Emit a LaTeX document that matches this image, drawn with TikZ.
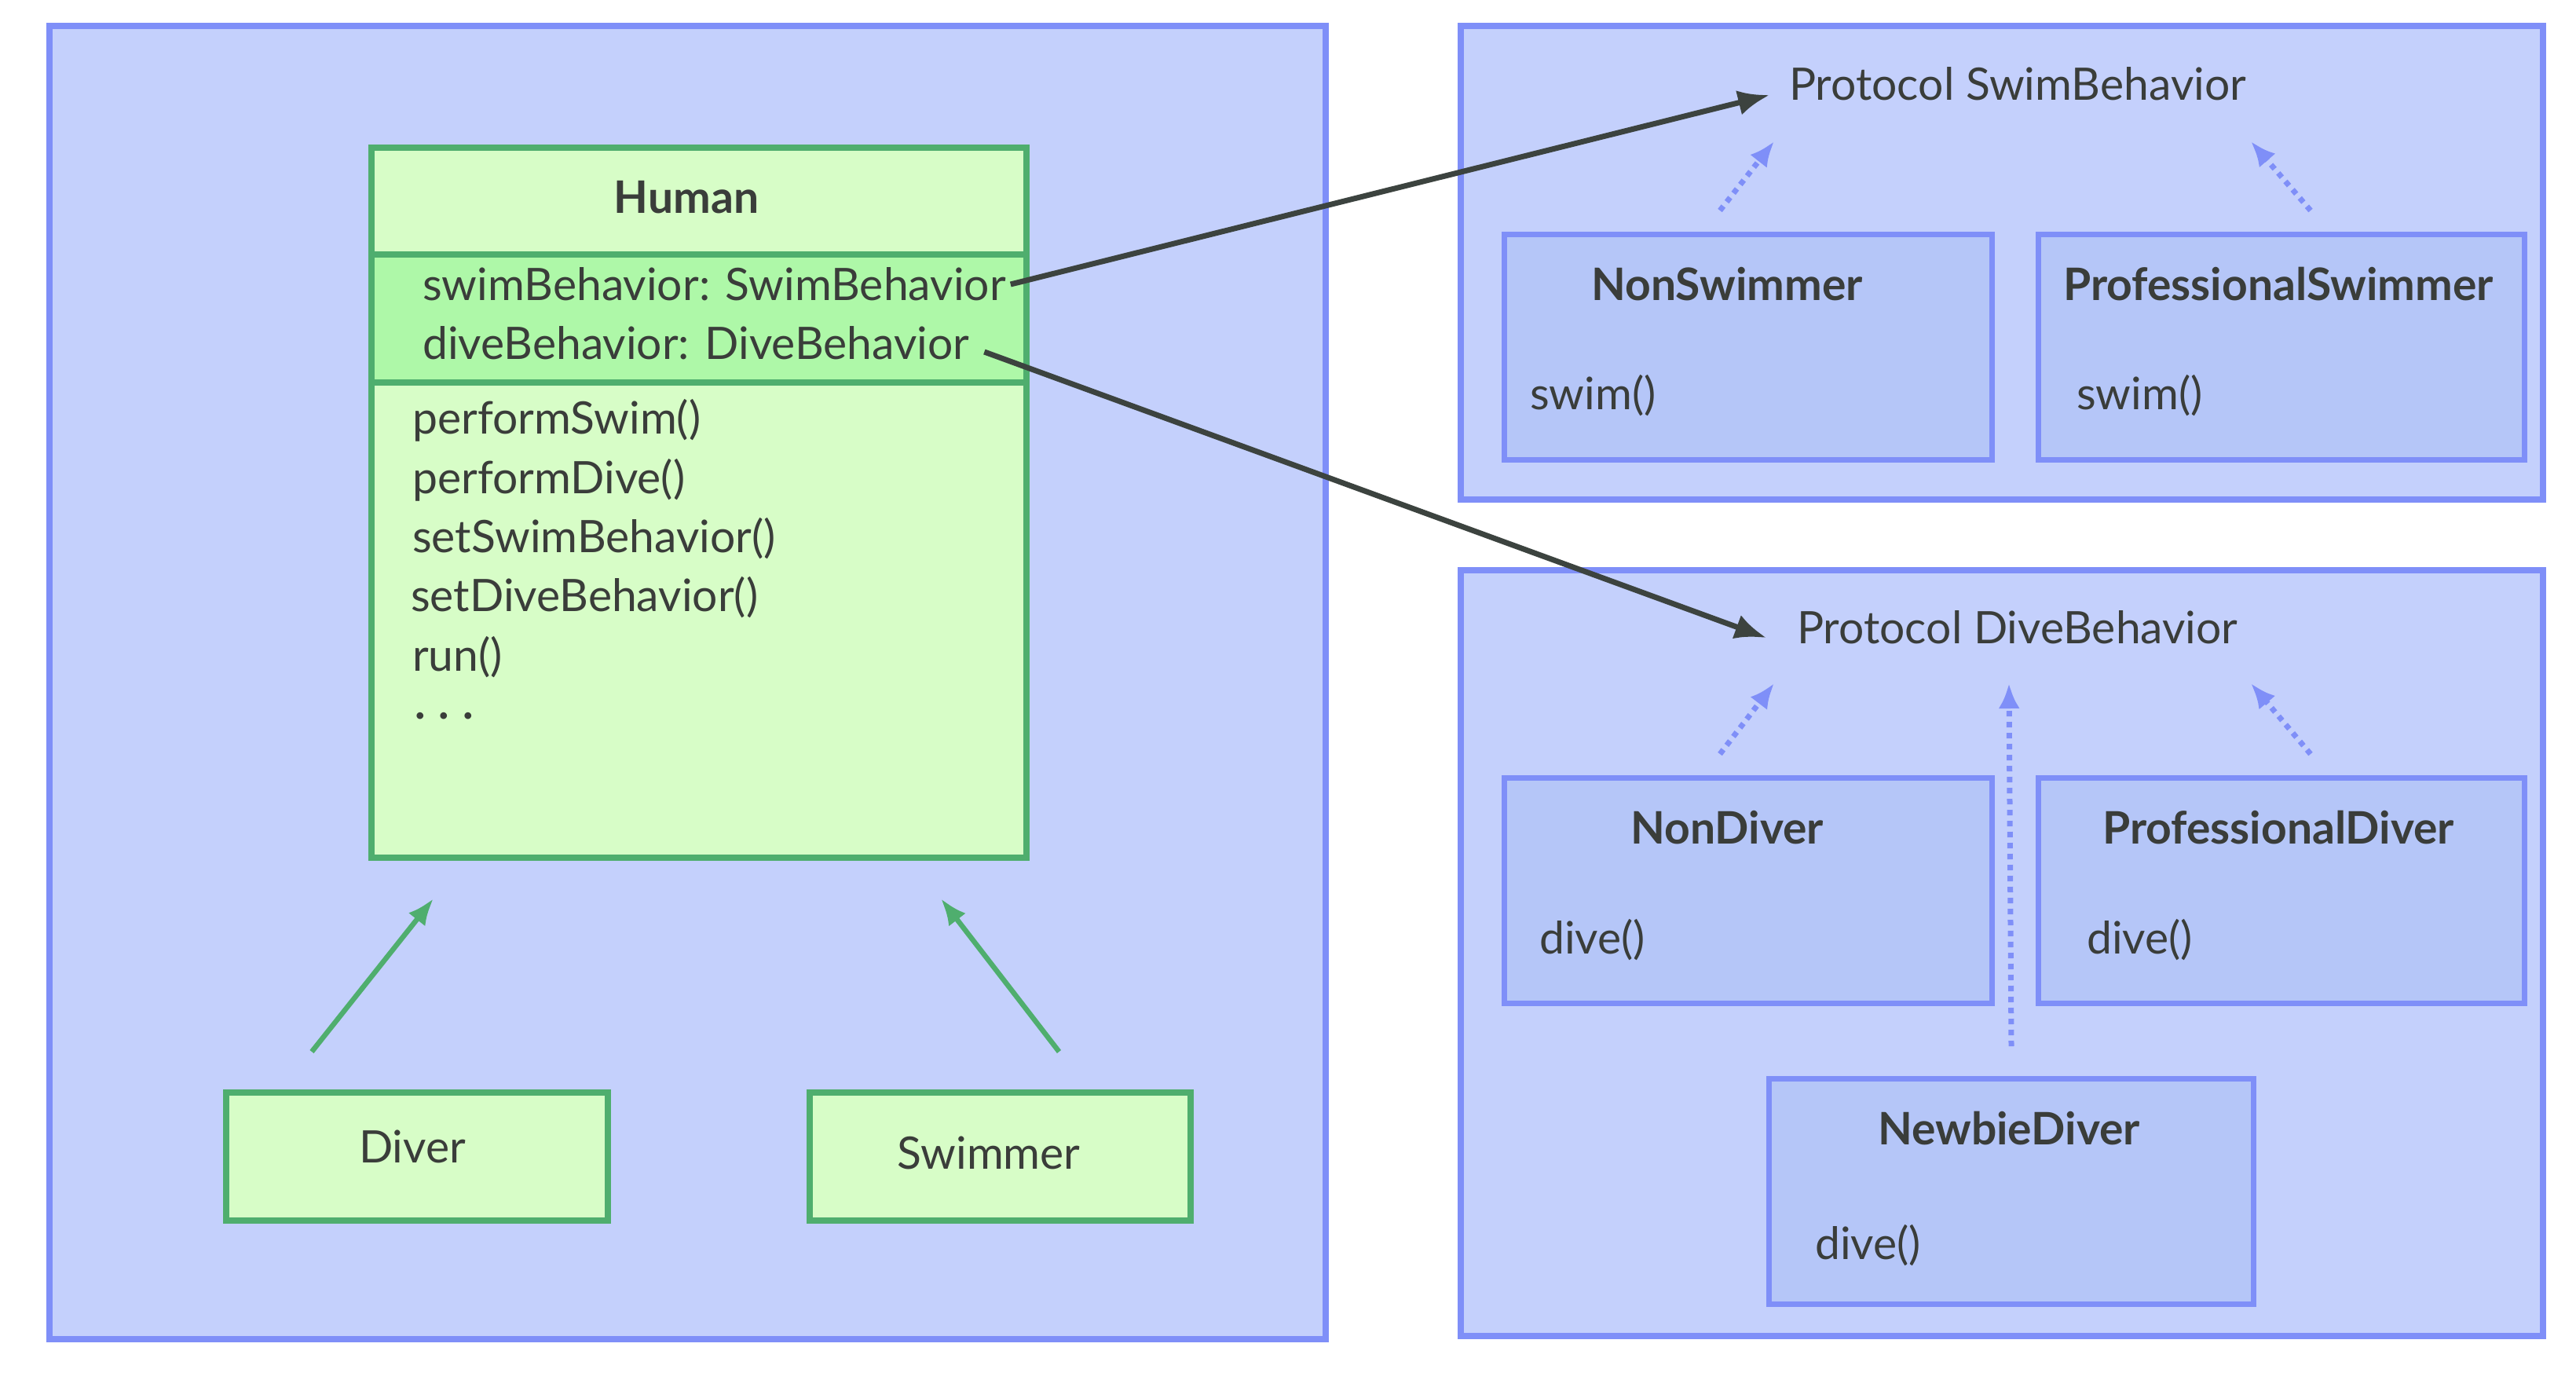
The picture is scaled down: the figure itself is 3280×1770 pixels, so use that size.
\documentclass[tikz,border=0pt]{standalone}
\usepackage{fontspec}
\setmainfont{Lato}
\usetikzlibrary{arrows.meta}
\definecolor{panelfill}{HTML}{C4D0FC}
\definecolor{paneldraw}{HTML}{7F8FF8}
\definecolor{implfill}{HTML}{B5C6F8}
\definecolor{greendraw}{HTML}{4FAE6E}
\definecolor{greenfill}{HTML}{D7FDC7}
\definecolor{greenmid}{HTML}{AEF8A8}
\definecolor{inktext}{HTML}{3A3D3A}
\definecolor{inkline}{HTML}{3C433F}
\tikzset{
  panel/.style={draw=paneldraw, fill=panelfill, line width=8pt},
  implbox/.style={draw=paneldraw, fill=implfill, line width=7pt, anchor=north west},
  classbox/.style={draw=greendraw, fill=greenfill, line width=8pt, anchor=north west},
  plaintext/.style={inner sep=0pt, text=inktext, font=\fontsize{57}{68}\selectfont},
  titletext/.style={plaintext, font=\fontsize{57}{68}\selectfont\bfseries},
  hasarrow/.style={draw=inkline, line width=7pt, -{Latex[length=40pt,width=32pt]}},
  isarrow/.style={draw=greendraw, line width=6.5pt, -{Latex[length=34pt,width=27pt]}},
  realizes/.style={draw=paneldraw, line width=7pt, dash pattern=on 7pt off 7pt, -{Latex[length=32pt,width=27pt]}}
}
\begin{document}
\begin{tikzpicture}[x=1pt, y=-1pt]
		%%%%% START %%%%%
		\useasboundingbox[fill=white] (0,0) rectangle (3280,1770);
		
		% panels
		\draw[panel] (63,33) rectangle (1688,1705);
		\draw[panel] (1860,33) rectangle (3238,636);
		\draw[panel] (1860,726) rectangle (3238,1701);
		
		% Human class
		\node[classbox, minimum width=834pt, minimum height=136pt] (humanhead) at (469,184) {};
		\node[classbox, fill=greenmid, minimum width=834pt, minimum height=163pt] (humanattr) at (469,320) {};
		\node[classbox, minimum width=834pt, minimum height=605pt] (humanops) at (469,483) {};
		\node[titletext] (humanname) at (874,251) {Human};
		\node[plaintext, anchor=west] (swimattr) at (538,362) {swimBehavior: SwimBehavior};
		\node[plaintext, anchor=west] (diveattr) at (538,437) {diveBehavior: DiveBehavior};
		\node[plaintext, anchor=west] (opswim) at (525,535) {performSwim()};
		\node[plaintext, anchor=west] (opdive) at (525,611) {performDive()};
		\node[plaintext, anchor=west] (opsetswim) at (525,686) {setSwimBehavior()};
		\node[plaintext, anchor=west] (opsetdive) at (523,761) {setDiveBehavior()};
		\node[plaintext, anchor=west] (oprun) at (525,837) {run()};
		\node[titletext, anchor=west] (opmore) at (528,912) {.\hspace{17pt}.\hspace{17pt}.};
		
		% subclasses
		\node[classbox, minimum width=486pt, minimum height=163pt] (diver) at (284,1387) {};
		\node[plaintext] (divername) at (525,1460) {Diver};
		\node[classbox, minimum width=485pt, minimum height=163pt] (swimmer) at (1027,1387) {};
		\node[plaintext] (swimmername) at (1259,1468) {Swimmer};
		
		\draw[isarrow] ([xshift=-134pt,yshift=48pt]diver.north) -- ([xshift=-338pt,yshift=-48pt]humanops.south);
		\draw[isarrow] ([xshift=75pt,yshift=48pt]swimmer.north) -- ([xshift=308pt,yshift=-48pt]humanops.south);
		
		% swim behaviors
		\node[plaintext, anchor=west] (swimproto) at (2278,107) {Protocol SwimBehavior};
		\node[implbox, minimum width=621pt, minimum height=287pt] (nonswim) at (1912,295) {};
		\node[titletext] (nonswimname) at (2199,362) {NonSwimmer};
		\node[plaintext, anchor=west] (nonswimop) at (1948,504) {swim()};
		\node[implbox, minimum width=619pt, minimum height=287pt] (profswim) at (2592,295) {};
		\node[titletext] (profswimname) at (2901,362) {ProfessionalSwimmer};
		\node[plaintext, anchor=west] (profswimop) at (2644,504) {swim()};
		
		\draw[realizes] ([xshift=-36pt,yshift=27pt]nonswim.north) -- ([xshift=-19pt,yshift=-73pt]swimproto.west);
		\draw[realizes] ([xshift=37pt,yshift=27pt]profswim.north) -- ([xshift=588pt,yshift=-73pt]swimproto.west);
		
		% dive behaviors
		\node[plaintext, anchor=west] (diveproto) at (2288,799) {Protocol DiveBehavior};
		\node[implbox, minimum width=621pt, minimum height=287pt] (nondiver) at (1912,987) {};
		\node[titletext] (nondivername) at (2199,1054) {NonDiver};
		\node[plaintext, anchor=west] (nondiverop) at (1960,1197) {dive()};
		\node[implbox, minimum width=619pt, minimum height=287pt] (profdiver) at (2592,987) {};
		\node[titletext] (profdivername) at (2901,1054) {ProfessionalDiver};
		\node[plaintext, anchor=west] (profdiverop) at (2657,1197) {dive()};
		\node[implbox, minimum width=617pt, minimum height=287pt] (newbie) at (2249,1370) {};
		\node[titletext] (newbiename) at (2558,1437) {NewbieDiver};
		\node[plaintext, anchor=west] (newbieop) at (2311,1586) {dive()};
		
		\draw[realizes] ([xshift=-36pt,yshift=27pt]nondiver.north) -- ([xshift=-29pt,yshift=-71pt]diveproto.west);
		\draw[realizes] ([yshift=38pt]newbie.north) -- ([xshift=270pt,yshift=-71pt]diveproto.west);
		\draw[realizes] ([xshift=37pt,yshift=27pt]profdiver.north) -- ([xshift=578pt,yshift=-71pt]diveproto.west);
		
		% has-a links
		\draw[hasarrow] ([xshift=6pt]swimattr.east) -- ([xshift=-25pt,yshift=-14pt]swimproto.west);
		\draw[hasarrow] ([xshift=19pt,yshift=-11pt]diveattr.east) -- ([xshift=-39pt,yshift=-13pt]diveproto.west);
		%%%%% END %%%%%
\end{tikzpicture}
\end{document}
